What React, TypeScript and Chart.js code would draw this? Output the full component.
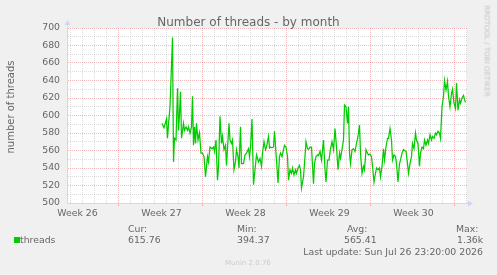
import React, { useEffect, useRef } from 'react';
import { Chart, registerables } from 'chart.js';

Chart.register(...registerables);

// time offsets (hours since the left edge of the month window) and thread counts
const hours = [
  190, 194, 199, 201, 203, 206, 211, 213, 215, 218,
  221, 223, 225, 227, 229, 233, 235, 238, 241, 243,
  246, 249, 251, 253, 255, 257, 259, 262, 265, 268,
  271, 274, 277, 281, 283, 286, 290, 293, 295, 298,
  301, 303, 306, 309, 311, 314, 317, 319, 322, 324,
  326, 329, 331, 334, 337, 339, 342, 344, 347, 349,
  353, 356, 359, 363, 365, 367, 370, 373, 376, 379,
  383, 386, 389, 391, 394, 397, 399, 403, 405, 407,
  410, 413, 415, 418, 422, 425, 427, 430, 433, 435,
  438, 441, 443, 446, 449, 451, 454, 457, 459, 462,
  465, 467, 469, 473, 475, 478, 481, 483, 486, 489,
  493, 495, 498, 501, 503, 506,
  509, 513, 516, 518, 521, 524, 527, 530, 533, 536,
  539, 542, 545, 547, 550, 553, 555, 558, 561, 563,
  565, 567, 570, 573, 576, 579, 582, 585, 587, 590,
  593, 595, 598, 601, 603, 606, 609, 611, 614, 617,
  619, 622, 625, 627, 630, 633, 635, 638, 641, 643,
  646, 649, 651, 654, 657, 659, 662, 665, 667, 670,
  673, 675, 678, 681, 683, 686, 689, 691, 694, 697,
  699, 702, 705, 707, 710, 713, 715, 718, 721, 723,
  726, 729, 731, 734, 737, 739, 742, 745, 747, 750,
  753, 755, 758, 761, 763, 766, 769, 771, 774, 777,
  779, 782, 785, 787, 790, 793, 795, 797,
];

const threads = [
  591, 586, 596, 574, 590, 610, 689, 547, 574, 572,
  631, 583, 602, 627, 574, 591, 583, 587, 583, 587,
  580, 587, 622, 566, 587, 568, 591, 572, 580, 557,
  557, 553, 530, 553, 547, 564, 562, 564, 559, 572,
  526, 541, 599, 568, 576, 561, 566, 543, 572, 591,
  572, 568, 572, 538, 547, 561, 553, 540, 587, 545,
  545, 555, 557, 562, 553, 564, 596, 521, 538, 555,
  547, 551, 542, 557, 570, 561, 564, 576, 563, 564,
  563, 564, 582, 557, 523, 553, 557, 553, 561, 566,
  564, 553, 526, 538, 534, 540, 532, 538, 534, 540,
  543, 538, 517, 530, 545, 570, 562, 561, 564, 564,
  522, 545, 553, 555, 554, 559,
  549, 572, 538, 524, 549, 549, 562, 570, 561, 585,
  564, 538, 557, 551, 561, 572, 612, 610, 591, 610,
  557, 545, 561, 562, 559, 568, 576, 589, 557, 534,
  542, 538, 561, 557, 555, 556, 553, 542, 524, 534,
  540, 538, 540, 530, 542, 562, 549, 564, 574, 574,
  585, 572, 549, 555, 553, 545, 524, 545, 549, 557,
  561, 560, 559, 545, 534, 545, 553, 568, 562, 580,
  572, 568, 542, 557, 564, 562, 572, 566, 572, 568,
  578, 572, 576, 574, 580, 578, 582, 580, 574, 610,
  622, 640, 629, 639, 622, 610, 625, 630, 614, 608,
  637, 606, 618, 614, 620, 623, 618, 615,
];

const weekLabels = ['Week 26', 'Week 27', 'Week 28', 'Week 29', 'Week 30'];
const weekLabelHours = [21, 189, 357, 525, 693];
const weekStartHours = [102, 270, 438, 606, 774];
const windowHours = 800;
const dayStartOffset = 6;

const legendHeaders = ['Cur:', 'Min:', 'Avg:', 'Max:'];
const legendValues = ['615.76', '394.37', '565.41', '1.36k'];
const seriesName = 'threads';
const lastUpdate = 'Last update: Sun Jul 26 23:20:00 2026';

const GREEN = '#00cc00';
const MINOR = 'rgba(143,143,143,0.32)';
const MAJOR = 'rgba(222,79,79,0.38)';
const AXIS = '#CFD6F8';
const FONT = '#666666';
const FAMILY = '"DejaVu Sans", sans-serif';

const dayHours: number[] = [];
for (let h = dayStartOffset; h < windowHours; h += 24) dayHours.push(h);
const xTickValues = [...dayHours, ...weekLabelHours].sort((a, b) => a - b);

const arrowPlugin = {
  id: 'bgAndArrows',
  beforeDraw(chart: any) {
    const { ctx, chartArea } = chart;
    ctx.save();
    ctx.fillStyle = '#ffffff';
    ctx.fillRect(chartArea.left, chartArea.top, chartArea.right - chartArea.left, chartArea.bottom - chartArea.top);
    ctx.restore();
  },
  afterDraw(chart: any) {
    const { ctx, chartArea } = chart;
    const l = chartArea.left + 0.5;
    const b = chartArea.bottom + 0.5;
    ctx.save();
    ctx.strokeStyle = AXIS;
    ctx.fillStyle = AXIS;
    ctx.lineWidth = 1;
    ctx.beginPath();
    ctx.moveTo(l, chartArea.top);
    ctx.lineTo(l, chartArea.top - 4);
    ctx.moveTo(chartArea.right, b);
    ctx.lineTo(chartArea.right + 3, b);
    ctx.stroke();
    ctx.beginPath();
    ctx.moveTo(l - 3, chartArea.top - 3);
    ctx.lineTo(l + 3, chartArea.top - 3);
    ctx.lineTo(l, chartArea.top - 8);
    ctx.closePath();
    ctx.fill();
    ctx.beginPath();
    ctx.moveTo(chartArea.right + 1, b - 3);
    ctx.lineTo(chartArea.right + 1, b + 3);
    ctx.lineTo(chartArea.right + 6, b);
    ctx.closePath();
    ctx.fill();
    ctx.restore();
  },
};

export default function App() {
  const ref = useRef<HTMLCanvasElement>(null);

  useEffect(() => {
    document.body.style.margin = '0';
    const chart = new Chart(ref.current as HTMLCanvasElement, {
      type: 'line',
      data: {
        datasets: [
          {
            label: seriesName,
            data: hours.map((h, i) => ({ x: h, y: threads[i] })),
            borderColor: GREEN,
            borderWidth: 1.25,
            pointRadius: 0,
            tension: 0,
            fill: false,
          },
        ],
      },
      options: {
        responsive: false,
        animation: false,
        events: [],
        layout: { padding: { left: 0, top: 28, right: 30, bottom: 0 } },
        plugins: { legend: { display: false }, tooltip: { enabled: false }, title: { display: false } },
        scales: {
          x: {
            type: 'linear',
            min: 0,
            max: windowHours,
            afterFit: (s: any) => {
              s.height = 72;
            },
            afterBuildTicks: (s: any) => {
              s.ticks = xTickValues.map((v) => ({ value: v }));
            },
            ticks: {
              autoSkip: false,
              maxRotation: 0,
              minRotation: 0,
              padding: 2,
              color: FONT,
              font: { family: FAMILY, size: 9.33 },
              callback: (v: any) => {
                const i = weekLabelHours.indexOf(Number(v));
                return i >= 0 ? weekLabels[i] : '';
              },
            },
            grid: {
              lineWidth: 1,
              drawTicks: true,
              tickLength: 3,
              color: (ctx: any) => {
                const v = ctx.tick ? ctx.tick.value : -1;
                if (weekStartHours.includes(v)) return MAJOR;
                if (weekLabelHours.includes(v)) return 'rgba(0,0,0,0)';
                return MINOR;
              },
              tickColor: (ctx: any) => {
                const v = ctx.tick ? ctx.tick.value : -1;
                return weekStartHours.includes(v) ? MAJOR : 'rgba(0,0,0,0)';
              },
            },
            border: { color: AXIS, width: 1, dash: [1, 1] },
          },
          y: {
            min: 500,
            max: 700,
            afterFit: (s: any) => {
              s.width = 67;
            },
            ticks: {
              stepSize: 10,
              autoSkip: false,
              padding: 7,
              color: FONT,
              font: { family: FAMILY, size: 9.33 },
              callback: (v: any) => (Number(v) % 20 === 0 ? String(v) : ''),
            },
            grid: {
              drawTicks: false,
              lineWidth: 1,
              color: (ctx: any) => {
                const v = ctx.tick ? ctx.tick.value : 0;
                return v % 20 === 0 ? MAJOR : MINOR;
              },
            },
            border: { color: AXIS, width: 1, dash: [1, 1] },
          },
        },
      },
      plugins: [arrowPlugin],
    } as any);
    return () => chart.destroy();
  }, []);

  const txt = (extra: React.CSSProperties): React.CSSProperties => ({
    position: 'absolute',
    whiteSpace: 'nowrap',
    lineHeight: 1,
    fontSize: 9.33,
    ...extra,
  });

  const colLeft = [128, 237, 347, 456];
  const valLeft = [128, 237, 344, 457];

  return (
    <div
      style={{
        position: 'fixed',
        left: 0,
        top: 0,
        width: 497,
        height: 275,
        background: '#f0f0f0',
        fontFamily: FAMILY,
        color: FONT,
        overflow: 'hidden',
      }}
    >
      <canvas ref={ref} width={497} height={275} style={{ position: 'absolute', left: 0, top: 0 }} />
      <div style={txt({ left: 0, width: 497, top: 16, fontSize: 12, textAlign: 'center' })}>
        Number of threads - by month
      </div>
      <div
        style={txt({
          left: 11,
          top: 107,
          fontSize: 10,
          transform: 'translate(-50%, -50%) rotate(-90deg)',
        })}
      >
        number of threads
      </div>
      <div
        style={txt({
          left: 487,
          top: 51,
          fontSize: 7.1,
          color: '#c4c4c4',
          transform: 'translate(-50%, -50%) rotate(90deg)',
        })}
      >
        RRDTOOL / TOBI OETIKER
      </div>
      <div style={{ position: 'absolute', left: 14, top: 237, width: 6, height: 6, background: GREEN }} />
      <div style={txt({ left: 20, top: 235 })}>{seriesName}</div>
      {legendHeaders.map((h, i) => (
        <div key={h} style={txt({ left: colLeft[i], top: 224 })}>
          {h}
        </div>
      ))}
      {legendValues.map((v, i) => (
        <div key={v} style={txt({ left: valLeft[i], top: 235 })}>
          {v}
        </div>
      ))}
      <div style={txt({ right: 14, top: 247 })}>{lastUpdate}</div>
      <div style={txt({ left: 225, top: 260, fontSize: 7, color: '#cccccc' })}>Munin 2.0.76</div>
    </div>
  );
}
